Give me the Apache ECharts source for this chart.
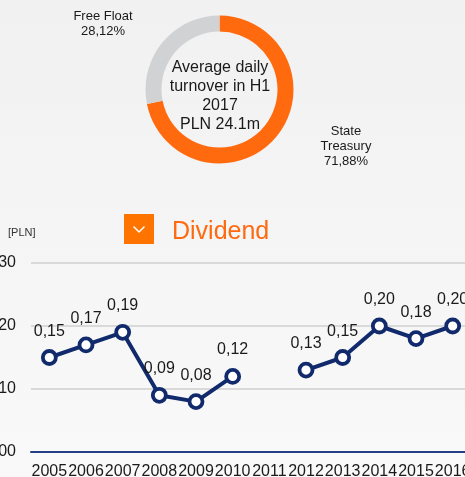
<!DOCTYPE html>
<html>
<head>
<meta charset="utf-8">
<script src="https://cdn.jsdelivr.net/npm/echarts@6/dist/echarts.min.js"></script>
<style>
  html, body { margin: 0; padding: 0; }
  #main {
    width: 465px;
    height: 477px;
    background: linear-gradient(#f1f1f1, #f9f9f9);
  }
</style>
</head>
<body>
<div id="main"></div>
<script>
// shareholder structure (donut)
const shareNames = ["State Treasury", "Free Float"];
const shareLabels = ["State\nTreasury", "Free Float"];
const shareValues = [71.88, 28.12];
const shareColors = ["#ff6a0e", "#d1d2d4"];
const centerText = "Average daily\nturnover in H1\n2017\nPLN 24.1m";

// dividend per share
const years = ["2005", "2006", "2007", "2008", "2009", "2010", "2011", "2012", "2013", "2014", "2015", "2016"];
const dividend = [0.15, 0.17, 0.19, 0.09, 0.08, 0.12, null, 0.13, 0.15, 0.20, 0.18, 0.20];
const yMin = 0, yMax = 0.3, yStep = 0.1;

const FONT = "'Liberation Sans', Arial, sans-serif";
const NAVY = "#112a6c";
const comma = v => Number(v).toFixed(2).replace(".", ",");

// where the two donut labels sit
const labelSpots = [
  { x: 346, y: 146 },
  { x: 103, y: 24 }
];

const chart = echarts.init(document.getElementById("main"));

const option = {
  backgroundColor: "transparent",
  animation: false,
  textStyle: { fontFamily: FONT },
  title: [
    {
      text: "Dividend",
      left: 172,
      top: 220,
      padding: 0,
      textStyle: { color: "#ff6a10", fontSize: 25, fontWeight: "normal", fontFamily: FONT }
    },
    {
      text: "[PLN]",
      left: 8,
      top: 227,
      padding: 0,
      textStyle: { color: "#333", fontSize: 11, fontWeight: "normal", fontFamily: FONT }
    }
  ],
  graphic: [
    { type: "rect", shape: { x: 124, y: 214, width: 30, height: 30 }, style: { fill: "#ff7300" }, silent: true },
    {
      type: "polyline",
      shape: { points: [[133.5, 226.5], [139, 232], [144.5, 226.5]] },
      style: { stroke: "#fff", lineWidth: 1.5, fill: null },
      silent: true
    },
    {
      type: "text",
      silent: true,
      style: {
        text: centerText,
        x: 220,
        y: 96,
        textAlign: "center",
        textVerticalAlign: "middle",
        font: "16px " + FONT,
        lineHeight: 19,
        fill: "#1a1a1a"
      }
    }
  ],
  grid: { left: 31, top: 263, width: 440, height: 189, containLabel: false, outerBoundsMode: "none" },
  xAxis: {
    type: "category",
    data: years,
    boundaryGap: true,
    axisLine: { lineStyle: { color: "#243f86", width: 2 } },
    axisTick: { show: false },
    axisLabel: { interval: 0, hideOverlap: false, color: "#1a1a1a", fontSize: 16, margin: 12, fontFamily: FONT }
  },
  yAxis: {
    type: "value",
    min: yMin,
    max: yMax,
    interval: yStep,
    axisLine: { show: false },
    axisTick: { show: false },
    axisLabel: { formatter: comma, color: "#1a1a1a", fontSize: 16, margin: 15, fontFamily: FONT },
    splitLine: { lineStyle: { color: "#cfcfcf", width: 1.5 } }
  },
  series: [
    {
      type: "pie",
      silent: true,
      center: [219.5, 89.5],
      radius: [58, 74],
      startAngle: 90,
      clockwise: true,
      data: shareNames.map((n, i) => ({ name: n, value: shareValues[i], itemStyle: { color: shareColors[i] } })),
      label: {
        show: true,
        formatter: p => shareLabels[p.dataIndex] + "\n" + comma(p.value) + "%",
        color: "#1a1a1a",
        fontSize: 13,
        lineHeight: 15,
        align: "center",
        fontFamily: FONT
      },
      labelLine: { show: false },
      labelLayout: params => {
        const spot = labelSpots[params.dataIndex];
        return { x: spot.x, y: spot.y, align: "center", verticalAlign: "middle" };
      }
    },
    {
      type: "line",
      data: dividend,
      symbol: "circle",
      symbolSize: 13,
      itemStyle: { color: "#fff", borderColor: NAVY, borderWidth: 3.8 },
      lineStyle: { color: NAVY, width: 4 },
      label: {
        show: true,
        position: "top",
        distance: 10,
        formatter: p => comma(p.value),
        color: "#1a1a1a",
        fontSize: 16,
        fontFamily: FONT
      }
    }
  ]
};

chart.setOption(option);
</script>
</body>
</html>
